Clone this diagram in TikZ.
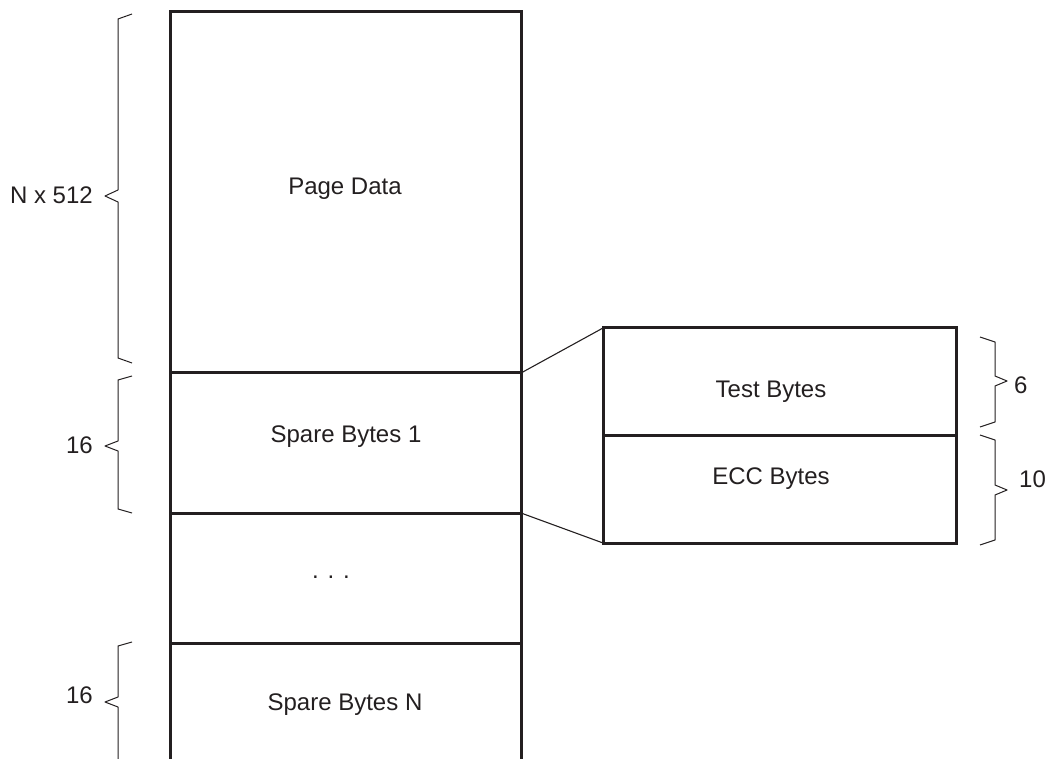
\documentclass[tikz,border=0pt]{standalone}
\usepackage{fontspec}
\setmainfont{Liberation Sans}
\definecolor{ink}{HTML}{231F20}
\begin{document}
\begin{tikzpicture}[x=1pt,y=-1pt,
  thick box/.style={draw=ink,line width=3pt},
  thin line/.style={draw=ink,line width=1.1pt},
  lbl/.style={text=ink,font=\fontsize{24}{28}\selectfont,inner sep=0pt},
  brace line/.style={draw=ink,line width=1pt,line join=round}]
\useasboundingbox (0,0) rectangle (1050,759);
% main column
\coordinate (mtl) at (170,12);
\coordinate (mtr) at (521,12);
\coordinate (mbl) at (170,762);
\coordinate (mbr) at (521,762);
\coordinate (s1l) at (170,373);
\coordinate (s1r) at (521,373);
\coordinate (s2l) at (170,513);
\coordinate (s2r) at (521,513);
\coordinate (s3l) at (170,643);
\coordinate (s3r) at (521,643);
\draw[thick box,line join=miter] (mbl) -- (mtl) -- (mtr) -- (mbr);
\draw[thick box] (s1l) -- (s1r);
\draw[thick box] (s2l) -- (s2r);
\draw[thick box] (s3l) -- (s3r);
% detail box
\coordinate (dtl) at (603,328);
\coordinate (dbr) at (956,543);
\coordinate (dml) at (603,435);
\coordinate (dmr) at (956,435);
\coordinate (dbl) at (603,543);
\draw[thick box] (dtl) rectangle (dbr);
\draw[thick box] (dml) -- (dmr);
% connectors
\draw[thin line] (s1r) -- (dtl);
\draw[thin line] (s2r) -- (dbl);
% texts
\node[lbl] (pd) at (345,189) {Page Data};
\node[lbl] (sb1) at (346,437) {Spare Bytes 1};
\node[lbl] (dots) at (331,577) {. . .};
\node[lbl] (sbn) at (345,705) {Spare Bytes N};
\node[lbl] (tb) at (771,392) {Test Bytes};
\node[lbl] (ecc) at (771,479) {ECC Bytes};
% left braces
\draw[brace line] (132,14) -- (118,19) -- (118,190) -- (105,196) -- (118,202) -- (118,358) -- (132,363);
\draw[brace line] (132,376) -- (118,380) -- (118,441) -- (105,446) -- (118,451) -- (118,509) -- (132,513);
\draw[brace line] (132,642) -- (118,646) -- (118,697) -- (105,702) -- (118,707) -- (118,762);
\node[lbl,anchor=east] (n512) at (93,195) {N x 512};
\node[lbl,anchor=east] (l16a) at (93,445) {16};
\node[lbl,anchor=east] (l16b) at (93,695) {16};
% right braces
\draw[brace line] (980,337) -- (995,342) -- (995,376) -- (1007,381) -- (995,386) -- (995,422) -- (980,427);
\draw[brace line] (980,435) -- (995,440) -- (995,485) -- (1007,490) -- (995,495) -- (995,540) -- (980,545);
\node[lbl,anchor=west] (l6) at (1014,385) {6};
\node[lbl,anchor=west] (l10) at (1019,479) {10};
\end{tikzpicture}
\end{document}
